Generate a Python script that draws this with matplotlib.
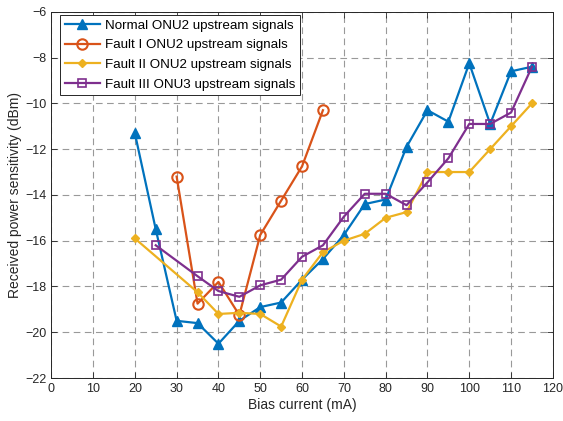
import numpy as np
import matplotlib
matplotlib.use("Agg")
import matplotlib.pyplot as plt

plt.rcParams['font.family'] = ['Liberation Sans', 'DejaVu Sans']

# bias current (mA) and received power sensitivity (dBm) per case
normal_x = [20, 25, 30, 35, 40, 45, 50, 55, 60, 65, 70, 75, 80, 85, 90, 95, 100, 105, 110, 115]
normal_y = [-11.3, -15.5, -19.5, -19.6, -20.5, -19.5, -18.9, -18.7, -17.7, -16.8, -15.75, -14.4,
            -14.2, -11.9, -10.3, -10.8, -8.25, -10.9, -8.6, -8.4]

fault1_x = [30, 35, 40, 45, 50, 55, 60, 65]
fault1_y = [-13.2, -18.75, -17.8, -19.25, -15.75, -14.25, -12.75, -10.3]

fault2_x = [20, 35, 40, 45, 50, 55, 60, 65, 70, 75, 80, 85, 90, 95, 100, 105, 110, 115]
fault2_y = [-15.9, -18.25, -19.2, -19.15, -19.2, -19.75, -17.7, -16.5, -16.0, -15.7, -15.0,
            -14.75, -13.0, -13.0, -13.0, -12.0, -11.0, -10.0]

fault3_x = [25, 35, 40, 45, 50, 55, 60, 65, 70, 75, 80, 85, 90, 95, 100, 105, 110, 115]
fault3_y = [-16.2, -17.55, -18.2, -18.45, -17.95, -17.7, -16.7, -16.2, -14.95, -13.95, -13.95,
            -14.45, -13.45, -12.4, -10.9, -10.9, -10.4, -8.4]

labels = ['Normal ONU2 upstream signals', 'Fault I ONU2 upstream signals',
          'Fault II ONU2 upstream signals', 'Fault III ONU3 upstream signals']

fig = plt.figure(figsize=(5.63, 4.21), dpi=100)
ax = fig.add_axes([0.091, 0.102, 0.891, 0.870])

ax.plot(normal_x, normal_y, color='#0072BD', lw=1.6, marker='^', ms=6.5,
        mfc='#0072BD', mec='#0072BD', label=labels[0])
ax.plot(fault1_x, fault1_y, color='#D95319', lw=1.6, marker='o', ms=7.5,
        mfc='none', mec='#D95319', mew=1.5, label=labels[1])
ax.plot(fault2_x, fault2_y, color='#EDB120', lw=1.6, marker='D', ms=4.5,
        mfc='#EDB120', mec='#EDB120', label=labels[2])
ax.plot(fault3_x, fault3_y, color='#7E2F8E', lw=1.6, marker='s', ms=6,
        mfc='none', mec='#7E2F8E', mew=1.2, label=labels[3])

ax.set_xlim(0, 120)
ax.set_ylim(-22, -6)
ax.set_xticks(np.arange(0, 121, 10))
ax.set_yticks(np.arange(-22, -5, 2))
ax.tick_params(direction='in', length=4, width=0.6, colors='#262626',
               labelsize=9, top=True, right=True, labeltop=False, labelright=False)
for s in ax.spines.values():
    s.set_color('#262626')
    s.set_linewidth(0.7)
ax.grid(True, ls=(0, (6, 4)), color='#999999', lw=0.8)
ax.set_axisbelow(True)

ax.set_xlabel('Bias current (mA)', fontsize=10, color='#262626', labelpad=2)
ax.set_ylabel('Received power sensitivity (dBm)', fontsize=10, color='#262626', labelpad=2)

leg = ax.legend(loc='upper left', bbox_to_anchor=(0.018, 0.992), fontsize=9.6,
                frameon=True, fancybox=False, edgecolor='#262626', framealpha=1,
                borderpad=0.35, labelspacing=0.55, handlelength=2.6,
                handletextpad=0.4, borderaxespad=0)
leg.get_frame().set_linewidth(0.7)

fig.savefig('out.png', dpi=100)
